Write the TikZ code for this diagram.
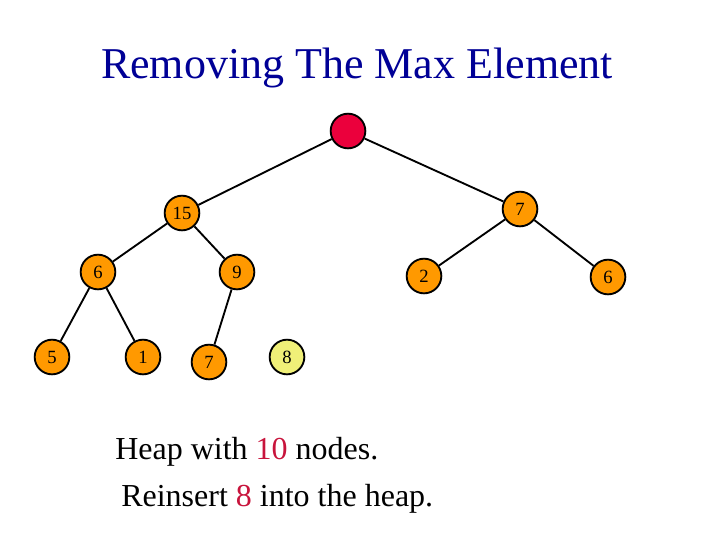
\documentclass[tikz,border=0pt]{standalone}
\usepackage{fontspec}
\setmainfont{Liberation Serif}
\definecolor{heaporange}{RGB}{255,153,0}
\definecolor{rootred}{RGB}{235,0,60}
\definecolor{newyellow}{RGB}{240,240,120}
\definecolor{hilite}{RGB}{200,20,60}
\definecolor{titleblue}{RGB}{0,0,150}
\tikzset{
  heapnode/.style={circle,draw=black,line width=1.4pt,fill=heaporange,minimum size=26pt,inner sep=0pt,font=\fontsize{14}{16}\selectfont},
  heapedge/.style={line width=1.4pt}
}
\begin{document}
\begin{tikzpicture}[x=0.75pt,y=0.75pt,yscale=-1,xscale=1]
\useasboundingbox (0,0) rectangle (720,540);
\draw (357,68) node [font=\fontsize{33}{36}\selectfont,text=titleblue] {Removing The Max Element};
% heap nodes
\node [heapnode,fill=rootred] (root) at (348,131) {};
\node [heapnode] (n15) at (182,213) {15};
\node [heapnode] (n7) at (520,209) {7};
\node [heapnode] (n6) at (98,272) {6};
\node [heapnode] (n9) at (237,272) {9};
\node [heapnode] (n2) at (424,276) {2};
\node [heapnode] (n6r) at (608,277) {6};
\node [heapnode] (n5) at (52,357) {5};
\node [heapnode] (n1) at (143,357) {1};
\node [heapnode] (n7b) at (209,362) {7};
\node [heapnode,fill=newyellow] (n8) at (287,357) {8};
% edges
\draw [heapedge] (root) -- (n15);
\draw [heapedge] (root) -- (n7);
\draw [heapedge] (n15) -- (n6);
\draw [heapedge] (n15) -- (n9);
\draw [heapedge] (n7) -- (n2);
\draw [heapedge] (n7) -- (n6r);
\draw [heapedge] (n6) -- (n5);
\draw [heapedge] (n6) -- (n1);
\draw [heapedge] (n9) -- (n7b);
% text
\draw (115,452) node [anchor=west,inner sep=0pt,font=\fontsize{24}{28}\selectfont] (msg1) {Heap with \textcolor{hilite}{10} nodes.};
\draw (121,499) node [anchor=west,inner sep=0pt,font=\fontsize{24}{28}\selectfont] (msg2) {Reinsert \textcolor{hilite}{8} into the heap.};
\end{tikzpicture}
\end{document}
